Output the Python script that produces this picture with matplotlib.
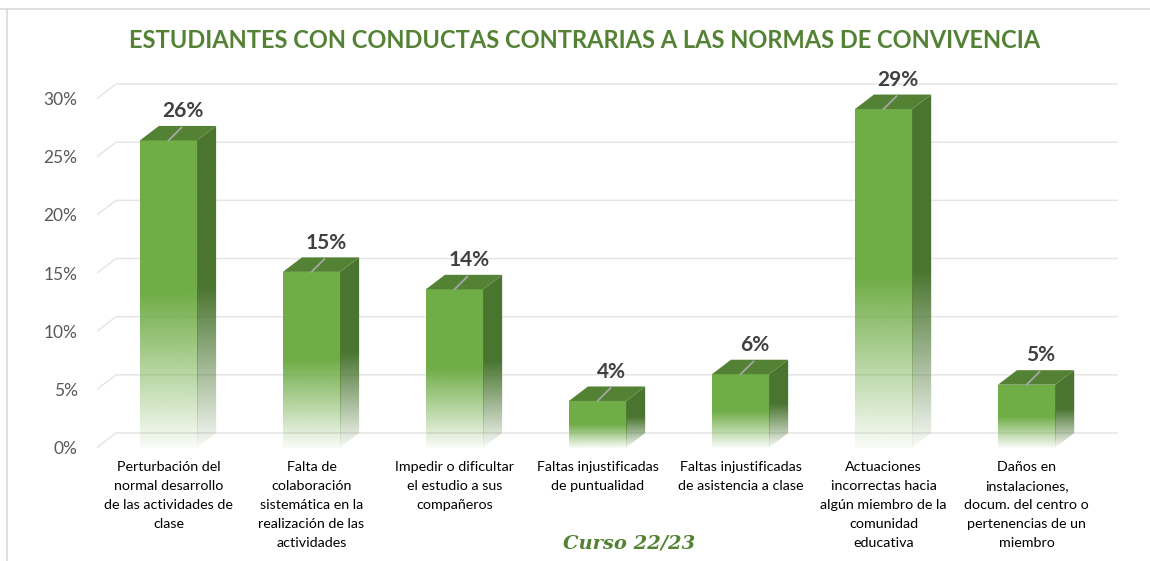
import matplotlib.pyplot as plt
from matplotlib.patches import Polygon
from matplotlib.lines import Line2D
import numpy as np

categorias = [
    "Perturbación del\nnormal desarrollo\nde las actividades de\nclase",
    "Falta de\ncolaboración\nsistemática en la\nrealización de las\nactividades",
    "Impedir o dificultar\nel estudio a sus\ncompañeros",
    "Faltas injustificadas\nde puntualidad",
    "Faltas injustificadas\nde asistencia a clase",
    "Actuaciones\nincorrectas hacia\nalgún miembro de la\ncomunidad\neducativa",
    "Daños en\ninstalaciones,\ndocum. del centro o\npertenencias de un\nmiembro",
]
valores = [26.4, 15.1, 13.6, 4.0, 6.3, 29.1, 5.4]
ticks_y = [0, 5, 10, 15, 20, 25, 30]

titulo = "ESTUDIANTES CON CONDUCTAS CONTRARIAS A LAS NORMAS DE CONVIVENCIA"
curso = "Curso 22/23"

verde = "#70AD47"
verde_top = "#548235"
verde_lado = "#4A7530"
verde_titulo = "#548235"

plt.rcParams['font.family'] = ['Lato', 'DejaVu Sans']

W, H = 1150, 561
fig = plt.figure(figsize=(W / 100, H / 100), dpi=100)
fig.patch.set_facecolor("white")

# ejes colocados en pixeles
x0, x1 = 97, 1141
y0, y1 = 447.5, 75.3
ax = fig.add_axes([x0 / W, 1 - y0 / H, (x1 - x0) / W, (y0 - y1) / H])
xlim = (-0.5, 6.8)
ylim = (0, 32)
ax.set_xlim(xlim)
ax.set_ylim(ylim)
for s in ax.spines.values():
    s.set_visible(False)

# profundidad 3D en unidades de datos
dx = 19 / 143
dy = 14.5 / 11.63
ancho = 0.4

# rejilla con pared del fondo
for t in ticks_y:
    ax.plot([-0.5, -0.5 + dx, 6.5 + dx], [t, t + dy, t + dy],
            color="#E6E6E6", lw=1.1, zorder=0)

# degradado: solido arriba, se desvanece hacia blanco abajo
n = 256
frac = np.linspace(0, 1, n)  # 0 abajo, 1 arriba
alfa = np.clip(0.04 + (1 - 0.04) * frac / 0.5, 0, 1)


def gradiente(color):
    rgb = np.array(plt.matplotlib.colors.to_rgb(color))
    img = np.zeros((n, 1, 4))
    img[:, 0, :3] = rgb
    img[:, 0, 3] = alfa
    return img


barras = ax.bar(range(len(valores)), valores, width=ancho,
                facecolor="none", edgecolor="none", zorder=2)

for i, (b, v) in enumerate(zip(barras, valores)):
    xl = b.get_x()
    xr = xl + b.get_width()
    # cara frontal
    im = ax.imshow(gradiente(verde), extent=[xl, xr, 0, v], origin="lower",
                   aspect="auto", interpolation="bilinear", zorder=3)
    im.set_clip_path(b)
    # cara lateral
    lado = Polygon([[xr, 0], [xr + dx, dy], [xr + dx, v + dy], [xr, v]],
                   closed=True, facecolor="none", edgecolor="none")
    ax.add_patch(lado)
    im2 = ax.imshow(gradiente(verde_lado), extent=[xr, xr + dx, 0, v + dy],
                    origin="lower", aspect="auto", interpolation="bilinear", zorder=3)
    im2.set_clip_path(lado)
    # cara superior
    ax.add_patch(Polygon([[xl, v], [xr, v], [xr + dx, v + dy], [xl + dx, v + dy]],
                         closed=True, facecolor=verde_top, edgecolor="none", zorder=4))
    # linea guia y etiqueta
    xc = i
    ax.plot([xc, xc + 0.09], [v, v + 1.1], color="#A6A6A6", lw=1.3, zorder=5)
    ax.text(xc + 0.1, v + 1.65, f"{round(v)}%", ha="center", va="bottom",
            fontsize=15, fontweight="bold", color="#404040", zorder=6)

ax.set_xlim(xlim)
ax.set_ylim(ylim)

ax.set_yticks(ticks_y)
ax.set_yticklabels([f"{t}%" for t in ticks_y])
ax.tick_params(axis="y", length=0, pad=14, labelsize=12.5, labelcolor="#595959")
ax.set_xticks(range(len(categorias)))
ax.set_xticklabels(categorias, linespacing=1.7)
ax.tick_params(axis="x", length=0, pad=10, labelsize=10.3, labelcolor="#000000")

fig.text(585 / W, 1 - 40 / H, titulo, ha="center", va="center",
         fontsize=17, fontweight="bold", color=verde_titulo)
fig.text(629 / W, 1 - 543 / H, curso, ha="center", va="center",
         fontsize=14, fontweight="bold", fontstyle="italic",
         family="DejaVu Serif", color=verde_titulo)

# borde del grafico (arriba e izquierda)
fig.add_artist(Line2D([0, 1], [1 - 8.5 / H, 1 - 8.5 / H], transform=fig.transFigure,
                      color="#D9D9D9", lw=1.2))
fig.add_artist(Line2D([7 / W, 7 / W], [0, 1 - 8.5 / H], transform=fig.transFigure,
                      color="#D9D9D9", lw=1.2))

fig.savefig("out.png", dpi=100, facecolor="white")
